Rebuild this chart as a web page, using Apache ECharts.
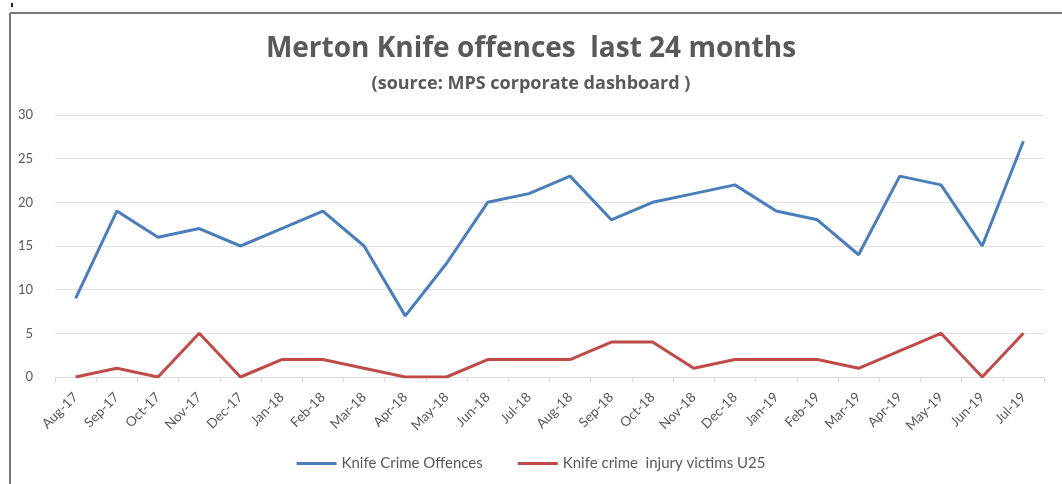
<!DOCTYPE html>
<html><head><meta charset="utf-8">
<script src="https://cdn.jsdelivr.net/npm/echarts@6/dist/echarts.min.js"></script>
<style>html,body{margin:0;padding:0;background:#fff}#c{width:1062px;height:484px}</style>
</head><body><div id="c"></div>
<script>
const categories = ["Aug-17","Sep-17","Oct-17","Nov-17","Dec-17","Jan-18","Feb-18","Mar-18","Apr-18","May-18","Jun-18","Jul-18","Aug-18","Sep-18","Oct-18","Nov-18","Dec-18","Jan-19","Feb-19","Mar-19","Apr-19","May-19","Jun-19","Jul-19"];
const knifeCrimeOffences = [9,19,16,17,15,17,19,15,7,13,20,21,23,18,20,21,22,19,18,14,23,22,15,27];
const injuryVictimsU25 = [0,1,0,5,0,2,2,1,0,0,2,2,2,4,4,1,2,2,2,1,3,5,0,5];
const seriesNames = ["Knife Crime Offences","Knife crime  injury victims U25"];
const titleText = "Merton Knife offences  last 24 months";
const subtitleText = "(source: MPS corporate dashboard )";

const chart = echarts.init(document.getElementById('c'));
const font = "Lato, 'Open Sans', sans-serif";
const tfont = "'Open Sans', Lato, sans-serif";
chart.setOption({
  animation: false,
  title: {
    text: titleText, subtext: subtitleText, left: 'center', top: 30, itemGap: 12,
    textStyle: {fontFamily: tfont, fontSize: 28, fontWeight: 'bold', color: '#595959'},
    subtextStyle: {fontFamily: tfont, fontSize: 18, fontWeight: 'bold', color: '#595959'}
  },
  graphic: [
    {type: 'line', shape: {x1: 10, y1: 13, x2: 1062, y2: 13}, style: {stroke: '#777', lineWidth: 2}},
    {type: 'line', shape: {x1: 10, y1: 13, x2: 10, y2: 484}, style: {stroke: '#777', lineWidth: 2}},
    {type: 'rect', shape: {x: 11, y: 3, width: 2, height: 4}, style: {fill: '#222'}}
  ],
  legend: {
    bottom: 8, left: 'center', itemGap: 35, itemWidth: 40, itemHeight: 3, icon: 'rect',
    textStyle: {fontFamily: font, fontSize: 15, color: '#595959'},
    data: seriesNames
  },
  grid: {left: 55, right: 18, top: 115, bottom: 107},
  xAxis: {
    type: 'category', data: categories, boundaryGap: true,
    axisLine: {lineStyle: {color: '#d9d9d9', width: 1}},
    axisTick: {show: true, length: 5, lineStyle: {color: '#d9d9d9'}},
    axisLabel: {rotate: 45, fontFamily: font, fontSize: 13.5, color: '#595959', margin: 18, interval: 0}
  },
  yAxis: {
    type: 'value', min: 0, max: 30, interval: 5,
    axisLine: {show: false}, axisTick: {show: false},
    axisLabel: {fontFamily: font, fontSize: 13, color: '#595959', margin: 22},
    splitLine: {lineStyle: {color: '#e0e0e0', width: 1}}
  },
  series: [
    {name: seriesNames[0], type: 'line', data: knifeCrimeOffences, showSymbol: false, symbol: 'none',
     lineStyle: {color: '#4a7ebb', width: 3}, itemStyle: {color: '#4a7ebb'}},
    {name: seriesNames[1], type: 'line', data: injuryVictimsU25, showSymbol: false, symbol: 'none',
     lineStyle: {color: '#be4b48', width: 3}, itemStyle: {color: '#be4b48'}}
  ]
});
</script></body></html>
